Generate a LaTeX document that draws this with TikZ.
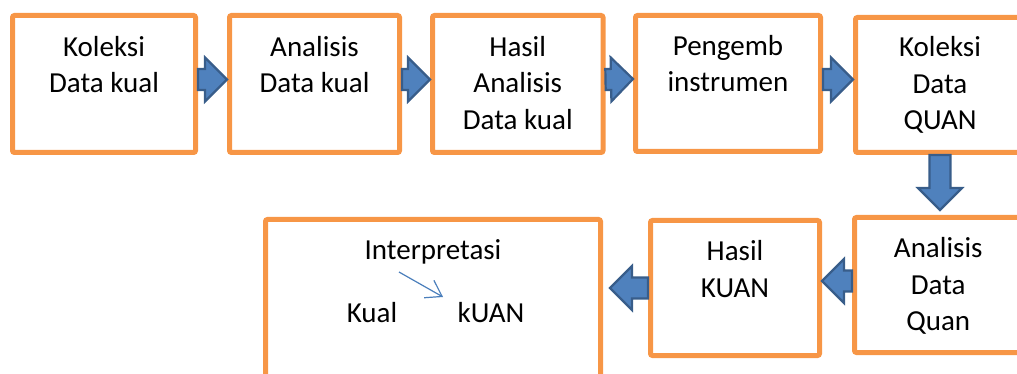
\documentclass[tikz,border=0pt]{standalone}
\usepackage{fontspec}
\setmainfont{Carlito}
\usetikzlibrary{arrows.meta,calc}
\definecolor{KotakOranye}{HTML}{F79646}
\definecolor{PanahIsi}{HTML}{4F81BD}
\definecolor{PanahTepi}{HTML}{385D8A}
\definecolor{PanahTipis}{HTML}{4A7EBB}
\newcommand{\panahblok}[2]{%
  \draw[blok] let \p1=(#1), \p2=(#2),
    \n1={atan2(\y2-\y1,\x2-\x1)}, \n2={veclen(\x2-\x1,\y2-\y1)} in
    [shift={(\p1)}, rotate=\n1]
    (0,-10.5) -- (\n2-22,-10.5) -- (\n2-22,-22) -- (\n2,0) -- (\n2-22,22) -- (\n2-22,10.5) -- (0,10.5) -- cycle;}

\begin{document}
\begin{tikzpicture}[
  x=1pt, y=1pt,
  kotak/.style={draw=KotakOranye, line width=5pt, rounded corners=2pt, minimum width=#1, minimum height=135, inner sep=0pt},
  teks/.style={font=\fontsize{29}{36.5}\selectfont, align=center, anchor=base, inner sep=0pt},
  blok/.style={draw=PanahTepi, fill=PanahIsi, line width=2.2pt, line join=miter},
  tipis/.style={draw=PanahTipis, line width=1.2pt, -{Straight Barb[length=15pt,width=20pt]}},
]
\path[use as bounding box, clip] (0,0) rectangle (1017,-374);
% baris atas
\node[kotak=183, minimum height=137] (kolkual) at (104,-84) {};
\node[kotak=170, minimum height=137] (analkual) at (314.5,-84) {};
\node[kotak=170.5, minimum height=137] (hasilkual) at (517.75,-84) {};
\node[kotak=185, minimum height=136] (pengemb) at (728,-83.5) {};
\node[kotak=169] (kolquan) at (940,-85) {};
% baris bawah
\node[kotak=167.5] (analquan) at (938.25,-285) {};
\node[kotak=169] (hasilquan) at (735,-288) {};
\node[kotak=335, minimum height=181] (interp) at (433,-310) {};
% panah blok
\panahblok{[yshift=4.5]kolkual.east}{[yshift=4.5]analkual.west}
\panahblok{[yshift=4.5]analkual.east}{[yshift=4.5]hasilkual.west}
\panahblok{[yshift=4.5]hasilkual.east}{[yshift=4.5]pengemb.west}
\panahblok{[yshift=4]pengemb.east}{[yshift=5.5]kolquan.west}
\panahblok{kolquan.south}{$(kolquan.south |- analquan.north)+(0,5)$}
\panahblok{[yshift=4]analquan.west}{[yshift=7]hasilquan.east}
\panahblok{hasilquan.west}{$(interp.east |- hasilquan.west)+(7,0)$}
% teks: anchor base = baris terakhir
\node[teks] (kolkual-t) at ([yshift=-80]kolkual.north) {Koleksi\\Data kual};
\node[teks] (analkual-t) at ([yshift=-80]analkual.north) {Analisis\\Data kual};
\node[teks] (hasilkual-t) at ([yshift=-116.5]hasilkual.north) {Hasil\\Analisis\\Data kual};
\node[teks] (pengemb-t) at ([yshift=-79]pengemb.north) {Pengemb\\instrumen};
\node[teks] (kolquan-t) at ([yshift=-115]kolquan.north) {Koleksi\\Data\\QUAN};
\node[teks] (analquan-t) at ([yshift=-115.5]analquan.north) {Analisis\\Data\\Quan};
\node[teks] (hasilquan-t) at ([yshift=-79]hasilquan.north) {Hasil\\KUAN};
\node[teks] (interp-t) at ([yshift=-42.5]interp.north) {Interpretasi};
\node[teks] (kual-t) at (372,-322) {Kual};
\node[teks] (kuan-t) at (491,-322) {kUAN};
\coordinate (pangkal) at (399,-272);
\coordinate (ujung) at (443,-297);
\draw[tipis] (pangkal) -- (ujung);
\end{tikzpicture}
\end{document}
